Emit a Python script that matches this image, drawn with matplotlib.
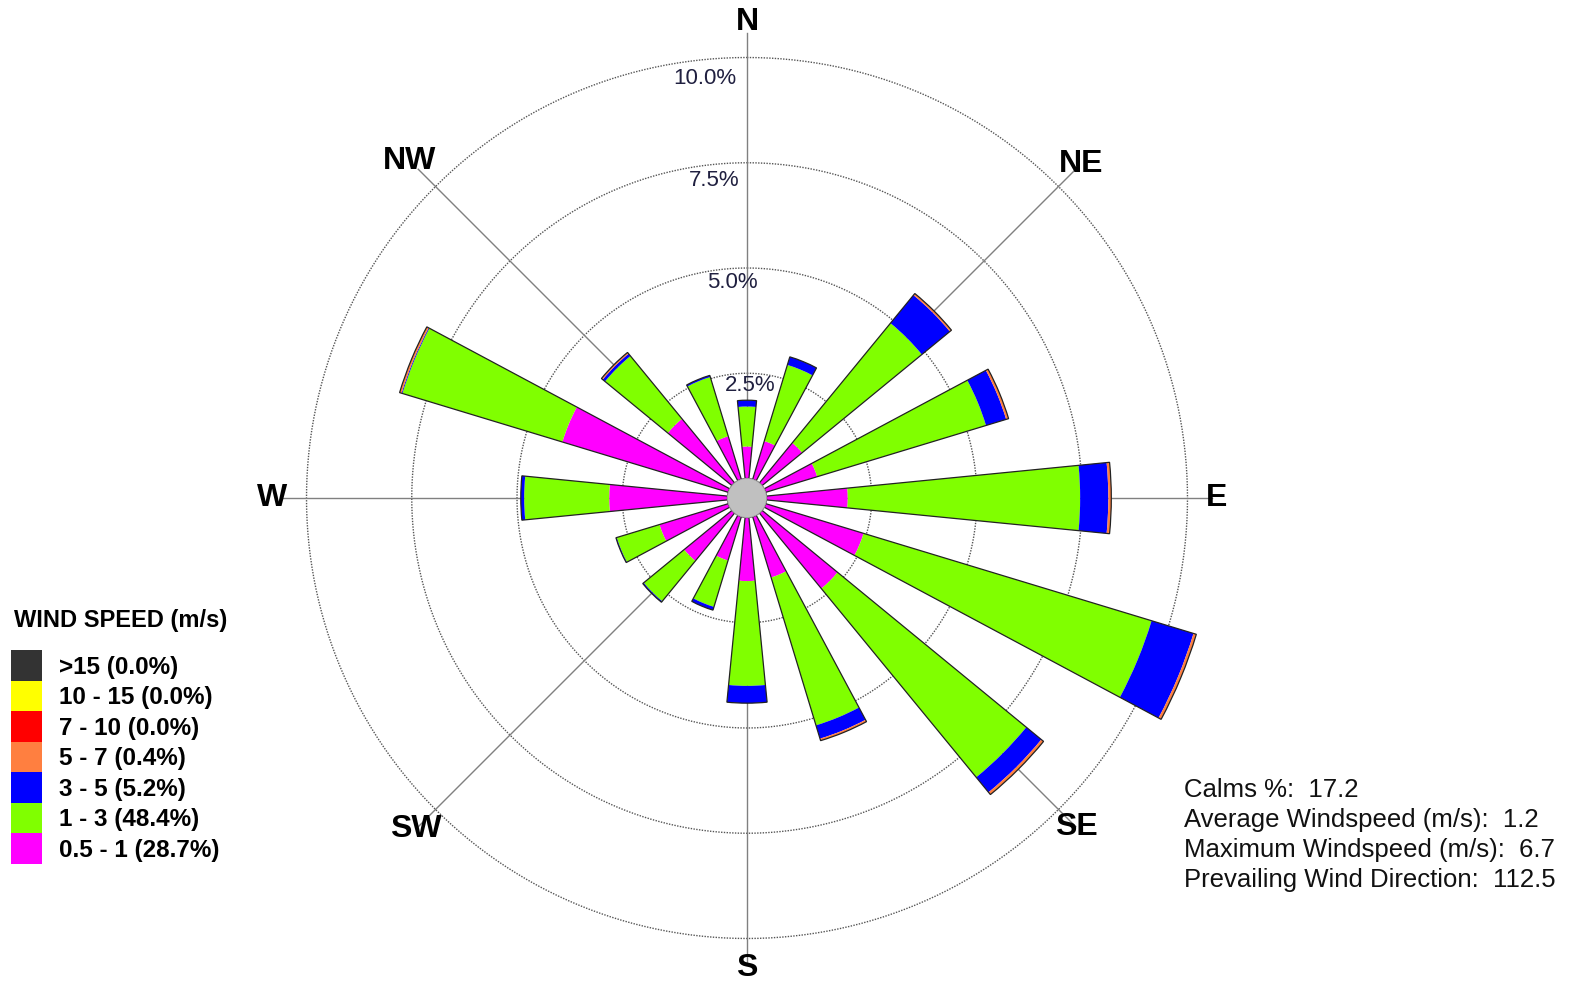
import numpy as np
import matplotlib
matplotlib.use("Agg")
import matplotlib.pyplot as plt
from matplotlib.patches import Circle, Rectangle

plt.rcParams['font.family'] = ['Liberation Sans', 'DejaVu Sans']

# ---------------- data ----------------
directions = ['N', 'NNE', 'NE', 'ENE', 'E', 'ESE', 'SE', 'SSE',
              'S', 'SSW', 'SW', 'WSW', 'W', 'WNW', 'NW', 'NNW']
dir_deg = [0, 22.5, 45, 67.5, 90, 112.5, 135, 157.5,
           180, 202.5, 225, 247.5, 270, 292.5, 315, 337.5]
# frequency (%) per speed class per direction
s_05_1 = [0.76, 0.95, 1.23, 1.28, 1.93, 2.43, 2.32, 1.51,
          1.51, 1.09, 1.47, 1.71, 2.81, 4.12, 1.97, 1.07]
s_1_3 = [0.95, 1.89, 3.68, 4.19, 5.52, 7.15, 5.80, 3.67,
         2.49, 1.15, 1.24, 1.06, 2.02, 3.97, 1.93, 1.47]
s_3_5 = [0.15, 0.20, 0.86, 0.50, 0.67, 1.04, 0.46, 0.33,
         0.41, 0.08, 0.03, 0.02, 0.08, 0.02, 0.07, 0.04]
s_5_7 = [0.00, 0.00, 0.05, 0.06, 0.07, 0.07, 0.07, 0.05,
         0.00, 0.00, 0.00, 0.00, 0.00, 0.05, 0.04, 0.00]
s_7_10 = [0.0] * 16
s_10_15 = [0.0] * 16
s_gt15 = [0.0] * 16

legend_labels = ['>15 (0.0%)', '10 - 15 (0.0%)', '7 - 10 (0.0%)', '5 - 7 (0.4%)',
                 '3 - 5 (5.2%)', '1 - 3 (48.4%)', '0.5 - 1 (28.7%)']
legend_colors = ['#333333', '#FFFF00', '#FF0000', '#FF7F40',
                 '#0000FF', '#80FF00', '#FF00FF']
ring_values = [2.5, 5.0, 7.5, 10.0]
ring_labels = ['2.5%', '5.0%', '7.5%', '10.0%']
compass_labels = ['N', 'NE', 'E', 'SE', 'S', 'SW', 'W', 'NW']
compass_deg = [0, 45, 90, 135, 180, 225, 270, 315]
stats_lines = ['Calms %:  17.2', 'Average Windspeed (m/s):  1.2',
               'Maximum Windspeed (m/s):  6.7', 'Prevailing Wind Direction:  112.5']

# ---------------- figure ----------------
W, H = 1576, 984
fig = plt.figure(figsize=(W / 100, H / 100), dpi=100)
fig.patch.set_facecolor('white')

k = 42.1          # px per percent
r0 = 19.5         # px, calm circle radius
cx, cy = 747, 498 # center in image px
rmax = 10.9
rorig = -r0 / k
R = (rmax - rorig) * k
ax = fig.add_axes([(cx - R) / W, (H - cy - R) / H, 2 * R / W, 2 * R / H],
                  projection='polar')
ax.set_theta_zero_location('N')
ax.set_theta_direction(-1)
ax.set_ylim(0, rmax)
ax.set_rorigin(rorig)
ax.grid(False)
ax.set_xticks([])
ax.set_yticks([])
ax.spines['polar'].set_visible(False)
ax.patch.set_alpha(0)

theta = np.deg2rad(dir_deg)
width = np.deg2rad(11.25)

# rings
tt = np.linspace(0, 2 * np.pi, 721)
for rv in ring_values:
    ax.plot(tt, np.full_like(tt, rv), color='#555555', lw=1.0,
            ls=(0, (1, 1)), zorder=1)
# spokes
for d in compass_deg:
    ax.plot([np.deg2rad(d)] * 2, [0, 10.58], color='#808080', lw=1.0, zorder=1)

# stacked bars
layers = [s_05_1, s_1_3, s_3_5, s_5_7, s_7_10, s_10_15, s_gt15]
layer_colors = legend_colors[::-1]
bottom = np.zeros(16)
for vals, col in zip(layers, layer_colors):
    v = np.array(vals)
    ax.bar(theta, v, width=width, bottom=bottom, color=col,
           edgecolor='none', zorder=3)
    bottom = bottom + v
ax.bar(theta, bottom, width=width, bottom=0, fill=False,
       edgecolor='#222222', lw=0.9, zorder=4)

# calm circle
calm = Circle((0.5, 0.5), (-rorig) / (rmax - rorig) * 0.5,
              transform=ax.transAxes, facecolor='#C0C0C0',
              edgecolor='#A8A8A8', lw=0.6, zorder=5)
ax.add_patch(calm)
calm.set_clip_on(False)

# ring labels
ring_pos = [(1.5, 2.22), (-4.0, 4.66), (-5.9, 7.13), (-5.7, 9.56)]
for (a, r), lab in zip(ring_pos, ring_labels):
    ax.text(np.deg2rad(a), r, lab, ha='center', va='center', fontsize=16,
            color='#202040', zorder=6)

# compass labels
compass_r = [10.84, 10.75, 10.7, 10.6, 10.7, 10.65, 10.82, 10.87]
for d, r, lab in zip(compass_deg, compass_r, compass_labels):
    ax.text(np.deg2rad(d), r, lab, ha='center', va='center', fontsize=23,
            fontweight='bold', color='black', clip_on=False)

# legend
fig.text(14 / W, 1 - 620 / H, 'WIND SPEED (m/s)', ha='left', va='center',
         fontsize=17, fontweight='bold')
y0 = 650
hh = 30.5
for i, (lab, col) in enumerate(zip(legend_labels, legend_colors)):
    yt = y0 + i * hh
    fig.patches.append(Rectangle((11 / W, 1 - (yt + hh) / H), 31 / W, hh / H,
                                 transform=fig.transFigure, facecolor=col,
                                 edgecolor='none'))
    fig.text(59 / W, 1 - (yt + hh / 2 + 2) / H, lab, ha='left', va='center',
             fontsize=17.5, fontweight='bold')

# stats
for i, s in enumerate(stats_lines):
    fig.text(1184 / W, 1 - (790 + i * 30) / H, s, ha='left', va='center',
             fontsize=18.5, color='#111111')

fig.savefig('out.png', dpi=100, facecolor='white')
